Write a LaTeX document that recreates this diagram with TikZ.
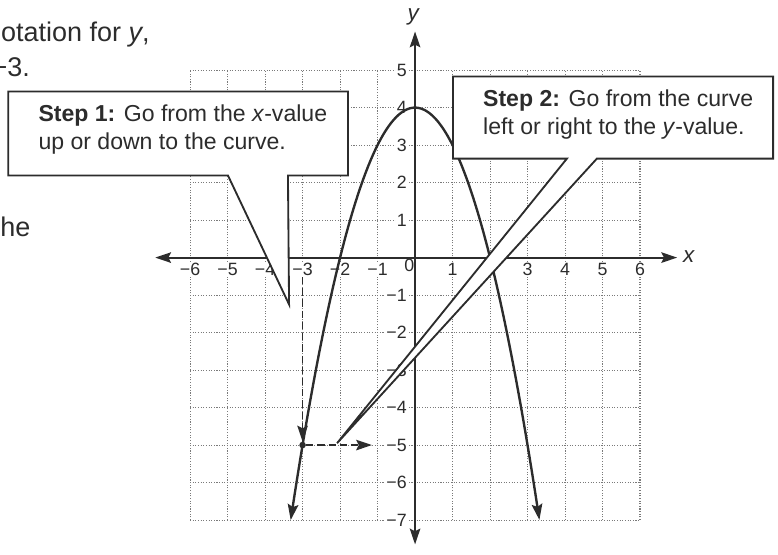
\documentclass[tikz,border=0pt]{standalone}
\usepackage{fontspec}
\setmainfont{Liberation Sans}
\definecolor{inkgray}{HTML}{2C2C2C}
\definecolor{gridgray}{HTML}{7A7A7A}
\usetikzlibrary{arrows.meta}

\begin{document}
\begin{tikzpicture}[x=1cm,y=1cm,
    tip/.style={-{Stealth[length=12pt,width=8pt,inset=2pt]}},
    bothtips/.style={{Stealth[length=12pt,width=8pt,inset=2pt]}-{Stealth[length=12pt,width=8pt,inset=2pt]}},
    ticklabel/.style={font=\fontsize{13.5}{15}\selectfont,text=inkgray,fill=white,inner sep=1pt},
    guide/.style={inkgray,line width=1.3pt,dash pattern=on 5.5pt off 3pt,tip},
    callout/.style={draw=inkgray,fill=white,line width=1.4pt},
    steptext/.style={font=\fontsize{17.5}{21.2}\selectfont,text=inkgray,align=left,inner sep=0pt,anchor=west},
    pagetext/.style={font=\fontsize{20.5}{24}\selectfont,text=inkgray,inner sep=0pt,anchor=base west}]
  \useasboundingbox (-11.07,-7.93) rectangle (9.68,6.87);
  \node[pagetext] (topline) at (-11.05,5.76) {otation for \textit{y},};
  \node[pagetext] (nextline) at (-11.3,4.83) {−3.};
  \node[pagetext] (sideword) at (-11.07,0.56) {he};
  \draw[gridgray,line width=0.8pt,dash pattern=on 0.8pt off 1.2pt] (-6,-7) grid (6,5);
  \foreach \pos/\val in {-6/−6,-5/−5,-4/−4,-3/−3,-2/−2,-1/−1,1/1,3/3,4/4,5/5,6/6}{
    \node[ticklabel,anchor=north] (xt\pos) at (\pos,-0.1) {\val};
  }
  \foreach \pos/\val in {5/5,4/4,3/3,2/2,1/1,-1/−1,-2/−2,-3/−3,-4/−4,-5/−5,-6/−6,-7/−7}{
    \node[ticklabel,anchor=east] (yt\pos) at (-0.18,\pos) {\val};
  }
  \node[ticklabel] (origin) at (-0.15,-0.22) {0};
  \coordinate (xleft) at (-6.93,0);
  \coordinate (xright) at (6.99,0);
  \coordinate (ytop) at (0,6.03);
  \coordinate (ybottom) at (0,-7.65);
  \draw[inkgray,line width=1.4pt,bothtips] (xleft) -- (xright);
  \draw[inkgray,line width=1.4pt,bothtips] (ybottom) -- (ytop);
  \node[font=\fontsize{17}{20}\selectfont\itshape,text=inkgray,inner sep=0pt] (xname) at (7.3,0.03) {x};
  \node[font=\fontsize{17}{20}\selectfont\itshape,text=inkgray,inner sep=0pt] (yname) at (-0.05,6.42) {y};
  \draw[inkgray,line width=1.8pt,bothtips] plot[domain=-3.317:3.317,samples=100,smooth] (\x,{4-\x*\x});
  \node[circle,fill=inkgray,inner sep=0pt,minimum size=5pt] (point) at (-3,-5) {};
  \coordinate (yvalue) at (-1.15,-5);
  \draw[guide] (xt-3.south) -- (point);
  \draw[guide] (point) -- (yvalue);
  \draw[callout] (-10.85,4.43) -- (-1.79,4.43) -- (-1.79,2.19) -- (-3.39,2.19) -- (-3.36,-1.25) -- (-4.99,2.19) -- (-10.85,2.19) -- cycle;
  \node[steptext] (stepone) at (-10.05,3.41) {\textbf{Step 1:} Go from the \textit{x}-value\\up or down to the curve.};
  \draw[callout] (1.01,4.83) -- (9.55,4.83) -- (9.55,2.64) -- (4.85,2.64) -- (-2.08,-4.95) -- (4.05,2.64) -- (1.01,2.64) -- cycle;
  \node[steptext] (steptwo) at (1.81,3.81) {\textbf{Step 2:} Go from the curve\\left or right to the \textit{y}-value.};
\end{tikzpicture}
\end{document}
